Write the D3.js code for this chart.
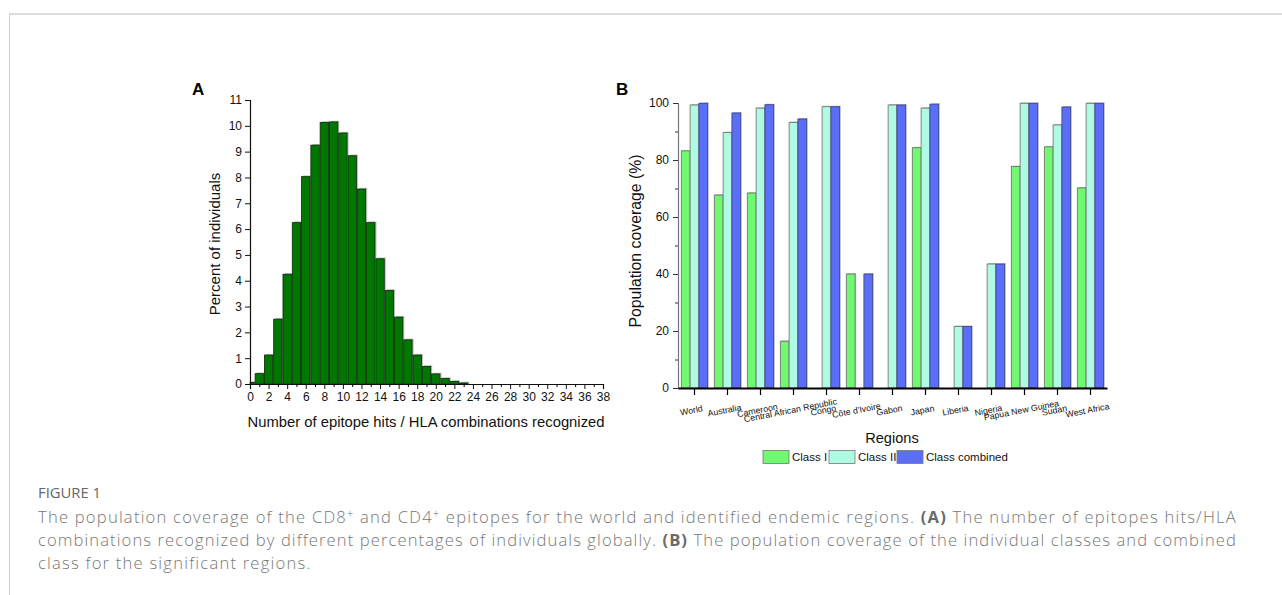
<!DOCTYPE html>
<html><head><meta charset="utf-8">
<script src="https://cdn.jsdelivr.net/npm/d3@7/dist/d3.min.js"></script>
<style>
html,body{margin:0;padding:0;background:#fff;}
svg{display:block;}
</style></head><body>
<svg id="chart" width="1282" height="595"></svg>
<script>
// Panel A data: percent of individuals by number of epitope hits
const hitCounts = d3.range(0, 24);
const hitPercents = [0.06,0.40,1.12,2.51,4.25,6.25,8.03,9.25,10.13,10.15,9.72,8.84,7.55,6.25,4.85,3.62,2.59,1.71,1.12,0.68,0.39,0.21,0.10,0.04];
const hitTicks = d3.range(0, 39, 2);
const pctTicks = d3.range(0, 12);

// Panel B data
const regions = ["World","Australia","Cameroon","Central African Republic","Congo","Côte d'Ivoire","Gabon","Japan","Liberia","Nigeria","Papua New Guinea","Sudan","West Africa"];
const classI =        [83.2,67.7,68.4,16.4,0,   40.0,0,   84.3,0,   0,   77.7,84.6,70.2];
const classII =       [99.3,89.6,98.2,93.2,98.7,0,   99.3,98.2,21.6,43.5,99.9,92.3,99.9];
const classCombined = [99.9,96.5,99.4,94.4,98.7,40.0,99.3,99.6,21.6,43.5,99.9,98.6,99.9];
const seriesNames = ["Class I","Class II","Class combined"];
const seriesColors = ["#70f870","#b0fae4","#5a6ef8"];
const coverageTicks = d3.range(0, 101, 20);

const svg = d3.select("#chart");
const font = "Arial, 'Liberation Sans', sans-serif";

// frame
svg.append("line").attr("x1",9).attr("x2",1282).attr("y1",14).attr("y2",14).attr("stroke","#dcdcdc").attr("stroke-width",2);
svg.append("line").attr("x1",9.5).attr("x2",9.5).attr("y1",14).attr("y2",595).attr("stroke","#cfcfcf").attr("stroke-width",1);

// ---------- Panel A ----------
const xA = d3.scaleLinear().domain([0,38]).range([250,603]);
const yA = d3.scaleLinear().domain([0,11]).range([384,100]);
const unitW = xA(1)-xA(0);
const gA = svg.append("g");
const barsA = hitCounts.map((h,i)=>({h, v: hitPercents[i]}));
const bx = d => Math.max(xA(d.h) - unitW*0.45, xA(0));
const bw = d => xA(d.h) + unitW*0.45 - bx(d);
gA.selectAll("rect.sh").data(barsA).enter().append("rect")
  .attr("x", d=>bx(d)+1.5).attr("y", d=>yA(d.v)-1.2)
  .attr("width", d=>bw(d)).attr("height", d=>yA(0)-yA(d.v)+1.2)
  .attr("fill","#b8b8b8");
gA.selectAll("rect.b").data(barsA).enter().append("rect")
  .attr("x", bx).attr("y", d=>yA(d.v))
  .attr("width", bw).attr("height", d=>yA(0)-yA(d.v))
  .attr("fill","#007800").attr("stroke","#0a2a0a").attr("stroke-width",0.8);

const axA_x = gA.append("g").attr("transform",`translate(0,${yA(0)})`)
  .call(d3.axisBottom(xA).tickValues(hitTicks).tickSize(5).tickPadding(3).tickFormat(d3.format("d")));
gA.append("g").attr("transform",`translate(0,${yA(0)})`)
  .call(d3.axisBottom(xA).tickValues(d3.range(1,38,2)).tickSize(3).tickFormat(""))
  .select(".domain").remove();
const axA_y = gA.append("g").attr("transform",`translate(${xA(0)},0)`)
  .call(d3.axisLeft(yA).tickValues(pctTicks).tickSize(5).tickPadding(3).tickFormat(d3.format("d")));
[axA_x, axA_y].forEach(a=>{
  a.attr("font-size",null).attr("font-family",null);
  a.selectAll("text").style("font-family",font).style("font-size","12px").attr("fill","#111");
  a.selectAll("line,path").attr("stroke","#111");
});
gA.selectAll(".domain").attr("stroke","#111").attr("stroke-width",1.2);

gA.append("text").attr("x",426).attr("y",427).attr("text-anchor","middle")
  .style("font-family",font).style("font-size","14.8px").attr("fill","#111")
  .text("Number of epitope hits / HLA combinations recognized");
gA.append("text").attr("transform",`translate(220,244) rotate(-90)`).attr("text-anchor","middle")
  .style("font-family",font).style("font-size","15px").attr("fill","#111")
  .text("Percent of individuals");
gA.append("text").attr("x",192).attr("y",95).style("font-family",font).attr("font-weight","bold")
  .style("font-size","17px").attr("fill","#000").text("A");

// ---------- Panel B ----------
const xB = d3.scaleBand().domain(regions).range([678,1107]).padding(0);
const sub = d3.scaleBand().domain(seriesNames).range([xB.bandwidth()*0.1, xB.bandwidth()*0.9]).padding(0);
const yB = d3.scaleLinear().domain([0,100]).range([388,103]);
const gB = svg.append("g");
const seriesVals = [classI, classII, classCombined];
const barsB = [];
regions.forEach((r,i)=>seriesNames.forEach((s,j)=>barsB.push({r,s,j,v:seriesVals[j][i]})));
const visible = barsB.filter(d=>d.v>0);
gB.selectAll("rect.sh").data(visible).enter().append("rect")
  .attr("x", d=>xB(d.r)+sub(d.s)+1).attr("y", d=>yB(d.v)-1)
  .attr("width", sub.bandwidth()).attr("height", d=>yB(0)-yB(d.v)+1)
  .attr("fill","#c4c4c4");
gB.selectAll("rect.b").data(visible).enter().append("rect")
  .attr("x", d=>xB(d.r)+sub(d.s)).attr("y", d=>yB(d.v))
  .attr("width", sub.bandwidth()).attr("height", d=>yB(0)-yB(d.v))
  .attr("fill", d=>seriesColors[d.j]).attr("stroke", d=>d.j===2?"#34407a":"#6a6a6a").attr("stroke-width",0.8);

const axB_y = gB.append("g").attr("transform",`translate(${xB.range()[0]},0)`)
  .call(d3.axisLeft(yB).tickValues(coverageTicks).tickSize(5).tickPadding(4).tickFormat(d3.format("d")));
gB.append("g").attr("transform",`translate(${xB.range()[0]},0)`)
  .call(d3.axisLeft(yB).tickValues(d3.range(10,100,20)).tickSize(3).tickFormat(""))
  .select(".domain").remove();
axB_y.selectAll("text").style("font-family",font).style("font-size","12px").attr("fill","#111");
axB_y.select(".domain").attr("stroke","#777").attr("stroke-width",1.2);
gB.selectAll("g.tick line").attr("stroke","#333");

const axB_x = gB.append("g").attr("transform",`translate(0,${yB(0)})`)
  .call(d3.axisBottom(xB).tickSize(6).tickSizeOuter(0).tickFormat(""));
axB_x.select(".domain").attr("stroke","#000").attr("stroke-width",2);
axB_x.selectAll("line").attr("stroke","#000").attr("stroke-width",1.2).attr("transform","translate(0,1)");

gB.append("g").selectAll("text").data(regions).enter().append("text")
  .attr("transform", d=>`translate(${xB(d)+xB.bandwidth()/2-3},${411}) rotate(-11)`)
  .attr("text-anchor","middle").attr("dominant-baseline","middle")
  .style("font-family",font).style("font-size","8.8px").attr("fill","#111").text(d=>d);

gB.append("text").attr("x",892).attr("y",443).attr("text-anchor","middle")
  .style("font-family",font).style("font-size","14.6px").attr("fill","#111").text("Regions");
gB.append("text").attr("transform",`translate(641,241) rotate(-90)`).attr("text-anchor","middle")
  .style("font-family",font).style("font-size","15.8px").attr("fill","#111").text("Population coverage (%)");
gB.append("text").attr("x",616).attr("y",95).style("font-family",font).attr("font-weight","bold")
  .style("font-size","17px").attr("fill","#000").text("B");

// legend
const legX = [763, 829, 897];
const leg = gB.append("g");
seriesNames.forEach((s,j)=>{
  leg.append("rect").attr("x",legX[j]).attr("y",450.5).attr("width",26).attr("height",13)
    .attr("fill",seriesColors[j]).attr("stroke","#777").attr("stroke-width",0.8);
  leg.append("text").attr("x",legX[j]+29).attr("y",461).style("font-family",font)
    .style("font-size","11.5px").attr("fill","#111").text(s);
});

// ---------- Caption ----------
const capFont = "'Open Sans', Lato, sans-serif";
const fig = svg.append("text").attr("x",38).attr("y",498).style("font-family",capFont).style("font-size","13px")
  .attr("fill","#666").text("FIGURE 1");
const fw = fig.node().getComputedTextLength();
fig.style("font-size", (13*63/fw)+"px");

const capLines = [
  [["The population coverage of the CD8",0],["+",1],[" and CD4",0],["+",1],[" epitopes for the world and identified endemic regions. ",0],["(A)",2],[" The number of epitopes hits/HLA",0]],
  [["combinations recognized by different percentages of individuals globally. ",0],["(B)",2],[" The population coverage of the individual classes and combined",0]],
  [["class for the significant regions.",0]]
];
const capTexts = capLines.map((line,li)=>{
  const t = svg.append("text").attr("x",38).attr("y",523+li*23).style("font-family",capFont)
    .style("font-size","16.6px").attr("font-weight",300).attr("fill","#777");
  let prevSup=false;
  line.forEach(([s,k])=>{
    const ts = t.append("tspan").text(s);
    if(k===1) ts.style("font-size","11px").attr("dy",-6);
    else if(prevSup) ts.attr("dy",6);
    if(k===2) ts.attr("font-weight",700).attr("fill","#6a6a6a");
    prevSup = (k===1);
  });
  return t;
});
// fit caption line widths to reference (lines 1 and 2 span ~1199px) via letter spacing
const spacing = [0,1].map(i=>{
  const t = capTexts[i];
  const w = t.node().getComputedTextLength();
  return (1199 - w) / t.text().length;
});
capTexts[0].style("letter-spacing", spacing[0]+"px");
capTexts[1].style("letter-spacing", spacing[1]+"px");
capTexts[2].style("letter-spacing", spacing[0]+"px");
</script>
</body></html>
